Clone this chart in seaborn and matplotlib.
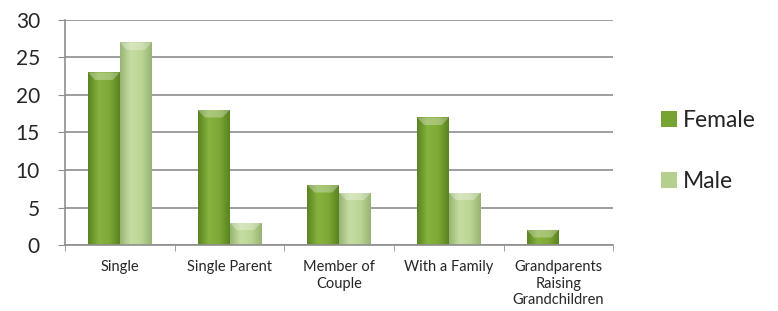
import pandas as pd
import matplotlib.pyplot as plt
from matplotlib.colors import LinearSegmentedColormap
import seaborn as sns
import numpy as np

categories = ["Single", "Single Parent", "Member of\nCouple", "With a Family",
              "Grandparents\nRaising\nGrandchildren"]
female = [23, 18, 8, 17, 2]
male = [27, 3, 7, 7, 0]

df = pd.DataFrame({
    "Category": categories * 2,
    "Sex": ["Female"] * len(categories) + ["Male"] * len(categories),
    "Count": female + male,
})

sns.set_style("white")
plt.rcParams["font.family"] = ["Lato", "DejaVu Sans"]

fig = plt.figure(figsize=(7.78, 3.11), dpi=100)
ax = fig.add_axes([0.0835, 0.212, 0.705, 0.724])

palette = {"Female": "#77A333", "Male": "#B5D08E"}
sns.barplot(data=df, x="Category", y="Count", hue="Sex", palette=palette,
            width=0.58, gap=0, ax=ax, edgecolor="none", saturation=1)

# soft bevel look like the office chart
grads = {
    "Female": LinearSegmentedColormap.from_list("f", ["#5A8420", "#86B23E", "#7EA936", "#5A8420"]),
    "Male": LinearSegmentedColormap.from_list("m", ["#98B574", "#C6DDA2", "#BCD594", "#98B574"]),
}
n = len(categories)
for i, bar in enumerate(ax.patches[:2 * n]):
    h = bar.get_height()
    if h <= 0:
        continue
    sex = "Female" if i < n else "Male"
    x0, w = bar.get_x(), bar.get_width()
    img = ax.imshow(np.linspace(0, 1, 64).reshape(1, -1), cmap=grads[sex],
                    extent=[x0, x0 + w, 0, h], aspect="auto", zorder=bar.get_zorder())
    img.set_clip_path(bar)
    # lighter cap at the top
    cap = min(1.0, h * 0.5)
    top = plt.Polygon([[x0, h], [x0 + w, h], [x0 + w * 0.78, h - cap], [x0 + w * 0.22, h - cap]],
                      closed=True, color="white", alpha=0.3, lw=0, zorder=bar.get_zorder() + 0.1)
    ax.add_patch(top)

ax.set_ylim(0, 30)
ax.set_xlim(-0.5, n - 0.5)
ax.set_yticks(range(0, 31, 5))
ax.yaxis.grid(True, color="#8E8E8E", linewidth=1.2)
ax.set_axisbelow(True)
ax.set_xlabel("")
ax.set_ylabel("")
for s in ["top", "right"]:
    ax.spines[s].set_visible(False)
for s in ["left", "bottom"]:
    ax.spines[s].set_color("#8E8E8E")
    ax.spines[s].set_linewidth(1.2)

ax.tick_params(axis="y", labelsize=15, length=5, color="#8E8E8E", direction="out",
               left=True, pad=13)
ax.tick_params(axis="x", labelsize=10.5, length=0, pad=11)
ax.set_xticks(np.arange(-0.5, n), minor=True)
ax.tick_params(axis="x", which="minor", length=4, color="#8E8E8E", direction="out", bottom=True)

fig.legend(handles=ax.get_legend().legend_handles, labels=["Female", "Male"],
           loc="upper left", bbox_to_anchor=(661 / 778, 1 - 110 / 311), frameon=False,
           fontsize=16.5, handlelength=0.7, handleheight=0.7, handletextpad=0.26,
           labelspacing=1.75, borderpad=0, borderaxespad=0)
ax.get_legend().remove()

fig.savefig("out.png", dpi=100)
